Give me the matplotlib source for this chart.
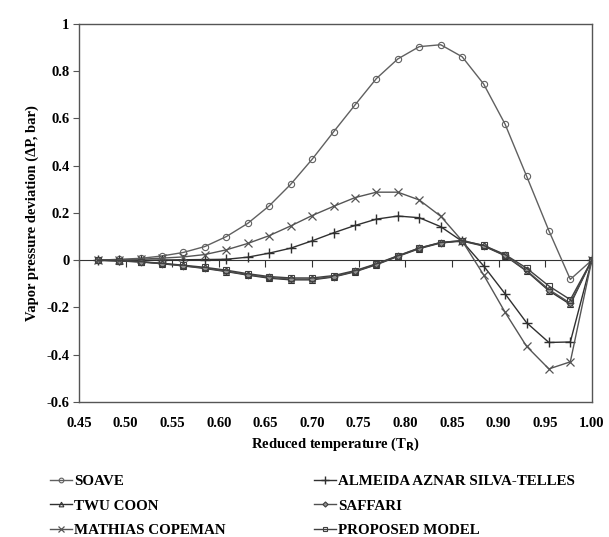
import numpy as np
import matplotlib
matplotlib.use("Agg")
import matplotlib.pyplot as plt
from matplotlib.ticker import FuncFormatter

plt.rcParams['font.family'] = ['Liberation Serif', 'DejaVu Serif']
plt.rcParams['font.weight'] = 'bold'
plt.rcParams['axes.labelweight'] = 'bold'
plt.rcParams['font.size'] = 10

# reduced temperature points
tr = [0.470, 0.493, 0.516, 0.539, 0.562, 0.585, 0.608, 0.631, 0.654, 0.677,
      0.700, 0.723, 0.746, 0.769, 0.792, 0.815, 0.838, 0.861, 0.884, 0.907,
      0.930, 0.954, 0.977, 1.000]

# vapor pressure deviations (bar)
soave = [0.000, 0.004, 0.008, 0.018, 0.033, 0.058, 0.100, 0.156, 0.230, 0.321,
         0.427, 0.543, 0.657, 0.769, 0.852, 0.904, 0.912, 0.861, 0.746, 0.576,
         0.357, 0.125, -0.081, 0.000]
almeida = [0.000, 0.000, 0.000, 0.001, 0.002, 0.003, 0.004, 0.013, 0.030, 0.051,
           0.082, 0.116, 0.147, 0.174, 0.187, 0.180, 0.142, 0.080, -0.024, -0.142,
           -0.264, -0.348, -0.346, 0.000]
twu_coon = [0.000, -0.003, -0.007, -0.015, -0.024, -0.035, -0.048, -0.063, -0.076, -0.083,
            -0.083, -0.071, -0.049, -0.019, 0.016, 0.049, 0.073, 0.081, 0.060, 0.019,
            -0.046, -0.129, -0.187, 0.000]
saffari = [0.000, -0.003, -0.007, -0.014, -0.023, -0.033, -0.046, -0.061, -0.073, -0.080,
           -0.080, -0.069, -0.047, -0.017, 0.018, 0.051, 0.075, 0.083, 0.062, 0.021,
           -0.043, -0.124, -0.182, 0.000]
mathias = [0.000, 0.001, 0.004, 0.009, 0.014, 0.024, 0.044, 0.071, 0.104, 0.145,
           0.189, 0.228, 0.265, 0.288, 0.288, 0.255, 0.186, 0.082, -0.062, -0.220,
           -0.364, -0.460, -0.430, 0.000]
proposed = [0.000, -0.002, -0.006, -0.013, -0.021, -0.030, -0.042, -0.057, -0.069, -0.075,
            -0.075, -0.065, -0.044, -0.015, 0.019, 0.052, 0.075, 0.083, 0.063, 0.024,
            -0.033, -0.109, -0.167, 0.000]

fig = plt.figure(figsize=(6.09, 5.37), dpi=100)
ax = fig.add_axes([0.1297, 0.2514, 0.842, 0.704])

l1, = ax.plot(tr, soave, color='#606060', lw=1, marker='o', ms=4.5, mfc='none',
              mec='#606060', mew=0.8, label='SOAVE')
l2, = ax.plot(tr, almeida, color='#303030', lw=1, marker='+', ms=7, mew=1,
              label='ALMEIDA AZNAR SILVA-TELLES')
l3, = ax.plot(tr, twu_coon, color='#303030', lw=1, marker='^', ms=4.5, mfc='none',
              mew=0.8, label='TWU COON')
l4, = ax.plot(tr, saffari, color='#505050', lw=1, marker='D', ms=3.5, mfc='#909090',
              mec='#404040', mew=0.8, label='SAFFARI')
l5, = ax.plot(tr, mathias, color='#555555', lw=1, marker='x', ms=5.5, mew=0.9,
              label='MATHIAS COPEMAN')
l6, = ax.plot(tr, proposed, color='#404040', lw=1, marker='s', ms=4.5, mfc='none',
              mew=0.8, label='PROPOSED MODEL')

ax.set_xlim(0.45, 1.00)
ax.set_ylim(-0.6, 1.0)
ax.set_xticks(np.arange(0.45, 1.001, 0.05))
ax.set_yticks(np.arange(-0.6, 1.001, 0.2))
ax.xaxis.set_major_formatter(FuncFormatter(lambda v, p: '%.2f' % v))
ax.yaxis.set_major_formatter(FuncFormatter(lambda v, p: '%g' % round(v, 1) if abs(v) > 1e-9 else '0'))
ax.tick_params(axis='x', length=0, pad=11, labelsize=10.5)
ax.tick_params(axis='y', direction='out', length=4, width=0.8, color='#555555', pad=3, labelsize=10.5)
for s in ax.spines.values():
    s.set_color('#555555')
    s.set_linewidth(1)

# zero line with ticks (axis crossing at 0)
zax = ax.secondary_xaxis(0, transform=ax.transData)
zax.set_xticks(np.arange(0.45, 1.001, 0.05))
zax.tick_params(direction='out', length=5, width=0.8, color='#333333', labelbottom=False)
zax.spines['bottom'].set_color('#333333')

ax.set_xlabel('Reduced temperature (T$_\\mathbf{R}$)', fontsize=10.5, labelpad=4)
ax.set_ylabel('Vapor pressure deviation (\u0394P, bar)', fontsize=10.5, labelpad=5)

fig.legend(handles=[l1, l3, l5, l2, l4, l6], loc='upper left',
           bbox_to_anchor=(0.082, 0.116), bbox_transform=fig.transFigure,
           ncol=2, frameon=False, fontsize=10.8, handlelength=1.45, handletextpad=0.15,
           columnspacing=5.9, labelspacing=0.72, borderaxespad=0, borderpad=0,
           markerscale=0.75)

fig.savefig('out.png', dpi=100)
